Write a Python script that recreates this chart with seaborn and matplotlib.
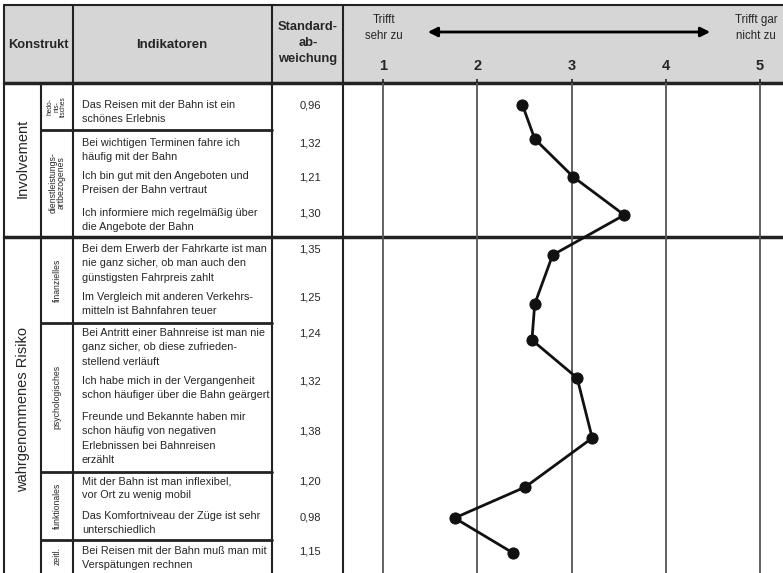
import matplotlib
matplotlib.use('Agg')
import matplotlib.pyplot as plt
import seaborn as sns
import pandas as pd

sns.set_style('white')
plt.rcParams['font.family'] = ['Liberation Sans', 'DejaVu Sans']

# Daten
konstrukte = ['Involvement', 'wahrgenommenes Risiko']
dimensionen = ['hedo-\nnis-\ntisches', 'dienstleistungs-\nartbezogenes', 'finanzielles',
               'psychologisches', 'funktionales', 'zeitl.']
indikatoren = [
    'Das Reisen mit der Bahn ist ein\nschönes Erlebnis',
    'Bei wichtigen Terminen fahre ich\nhäufig mit der Bahn',
    'Ich bin gut mit den Angeboten und\nPreisen der Bahn vertraut',
    'Ich informiere mich regelmäßig über\ndie Angebote der Bahn',
    'Bei dem Erwerb der Fahrkarte ist man\nnie ganz sicher, ob man auch den\ngünstigsten Fahrpreis zahlt',
    'Im Vergleich mit anderen Verkehrs-\nmitteln ist Bahnfahren teuer',
    'Bei Antritt einer Bahnreise ist man nie\nganz sicher, ob diese zufrieden-\nstellend verläuft',
    'Ich habe mich in der Vergangenheit\nschon häufiger über die Bahn geärgert',
    'Freunde und Bekannte haben mir\nschon häufig von negativen\nErlebnissen bei Bahnreisen\nerzählt',
    'Mit der Bahn ist man inflexibel,\nvor Ort zu wenig mobil',
    'Das Komfortniveau der Züge ist sehr\nunterschiedlich',
    'Bei Reisen mit der Bahn muß man mit\nVerspätungen rechnen',
]
std_abw = ['0,96', '1,32', '1,21', '1,30', '1,35', '1,25', '1,24', '1,32', '1,38', '1,20', '0,98', '1,15']
mittelwerte = [2.48, 2.61, 3.02, 3.56, 2.80, 2.61, 2.58, 3.06, 3.22, 2.51, 1.76, 2.38]
skala = [1, 2, 3, 4, 5]

# Layout (Pixel, von oben)
text_y = [106, 144, 177, 214, 250, 298, 334, 382, 418, 482, 517, 552]
std_y = [106, 143, 177, 213, 250, 298, 334, 382, 432, 482, 517, 552]
punkt_y = [105, 139, 177, 215, 255, 304, 340, 378, 438, 487, 518, 553]
konstrukt_y = [158, 410]
dim_y = [107, 183, 280, 397, 506, 556]
dim_grenzen = [130, 323, 472, 540]

W, H = 783, 573
fig = plt.figure(figsize=(W / 100, H / 100), dpi=100)
ax = fig.add_axes([0, 0, 1, 1])
ax.set_xlim(0, W)
ax.set_ylim(H, 0)
ax.axis('off')

grau = '#d6d6d6'
linie = '#222222'
ax.fill_between([4, W], 5, 83, color=grau, zorder=0)

# Tabellenlinien
ax.plot([4, W], [5, 5], color=linie, lw=1.5)
ax.plot([4, W], [83, 83], color=linie, lw=2.5)
ax.plot([4, W], [237, 237], color=linie, lw=2.5)
for x in [4, 73, 272, 343]:
    ax.plot([x, x], [5, H], color=linie, lw=1.5)
ax.plot([41, 41], [83, H], color=linie, lw=1.5)
for y in dim_grenzen:
    ax.plot([41, 272], [y, y], color=linie, lw=2)

# Kopfzeile
ax.text(38, 45, 'Konstrukt', ha='center', va='center', fontsize=9.3, fontweight='bold')
ax.text(172, 45, 'Indikatoren', ha='center', va='center', fontsize=9.5, fontweight='bold')
ax.text(308, 43, 'Standard-\nab-\nweichung', ha='center', va='center', fontsize=9.3,
        fontweight='bold', linespacing=1.45)
ax.text(384, 28, 'Trifft\nsehr zu', ha='center', va='center', fontsize=8.3, linespacing=1.35)
ax.text(756, 28, 'Trifft gar\nnicht zu', ha='center', va='center', fontsize=8.3, linespacing=1.35)
ax.annotate('', xy=(425, 32), xytext=(713, 32),
            arrowprops=dict(arrowstyle='<|-|>', color='black', lw=2, mutation_scale=14))

# Konstrukte und Dimensionen
for name, y in zip(konstrukte, konstrukt_y):
    ax.text(23, y, name, rotation=90, ha='center', va='center', fontsize=10.5)
for i, (name, y) in enumerate(zip(dimensionen, dim_y)):
    fs = 4.8 if i == 0 else 6.2
    ax.text(57, y, name, rotation=90, ha='center', va='center', fontsize=fs,
            linespacing=0.95)

# Indikatoren und Standardabweichungen
for txt, y in zip(indikatoren, text_y):
    ax.text(82, y - 6, txt, ha='left', va='top', fontsize=7.8, linespacing=1.55)
for s, y in zip(std_abw, std_y):
    ax.text(310, y, s, ha='center', va='center', fontsize=8)

# Profil-Diagramm
ax2 = fig.add_axes([343 / W, 0, (W - 343) / W, (H - 83) / H])
x0 = 1 - (383 - 343) / 94.25
x1 = 1 + (W - 383) / 94.25
ax2.set_xlim(x0, x1)
ax2.set_ylim(H, 83)
ax2.patch.set_alpha(0)
for sp in ax2.spines.values():
    sp.set_visible(False)
ax2.set_yticks([])
ax2.set_xticks(skala)
ax2.set_xticklabels([str(v) for v in skala], fontsize=10.5, fontweight='bold')
ax2.xaxis.tick_top()
ax2.tick_params(axis='x', direction='out', length=3, width=1.2, color=linie, pad=4)
for v in skala:
    ax2.axvline(v, color='#555555', lw=1.3, zorder=1)

df = pd.DataFrame({'Mittelwert': mittelwerte, 'Zeile': punkt_y})
sns.lineplot(data=df, x='Mittelwert', y='Zeile', sort=False, estimator=None,
             errorbar=None, color='#111111', lw=2, marker='o', markersize=8,
             markeredgecolor='#111111', ax=ax2, zorder=3)
ax2.set_xlabel('')
ax2.set_ylabel('')

fig.savefig('out.png', dpi=100)
